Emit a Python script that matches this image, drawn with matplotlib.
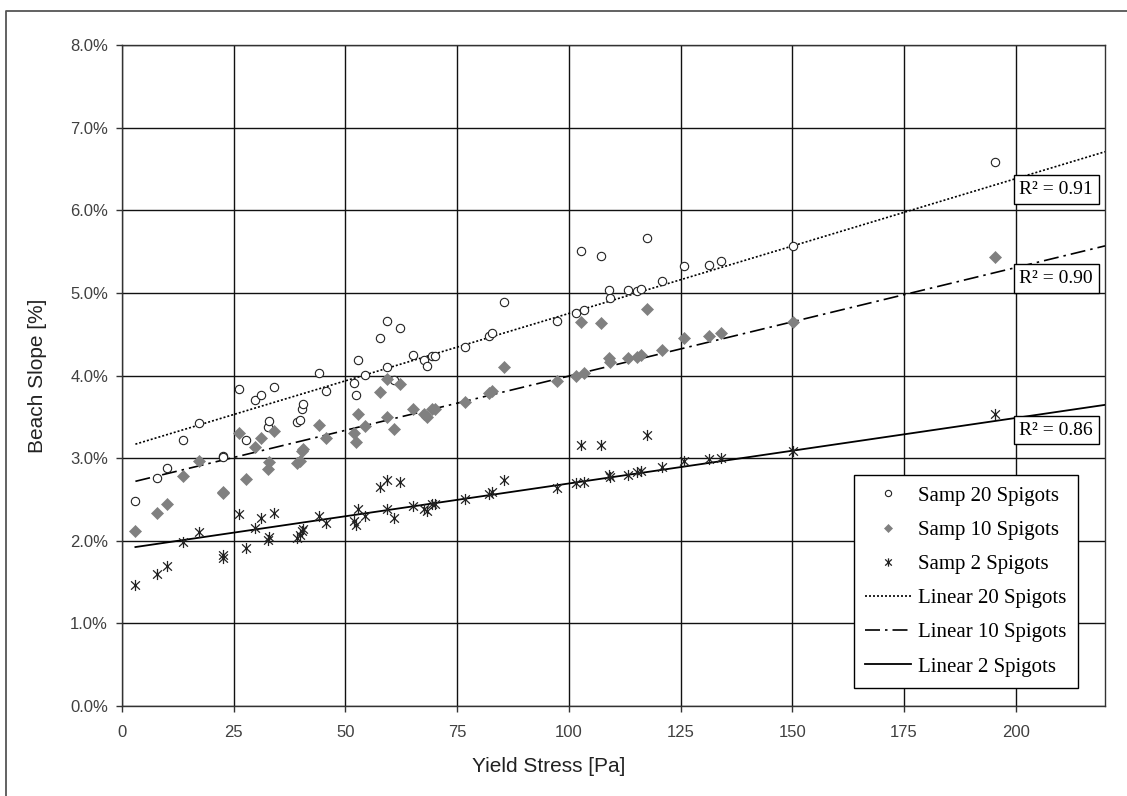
import numpy as np
import matplotlib
matplotlib.use("Agg")
import matplotlib.pyplot as plt
from matplotlib.lines import Line2D
from matplotlib.path import Path

# ---- data ----
yield_stress = [3.0, 7.9, 10.1, 13.7, 17.2, 22.6, 22.5, 26.2, 27.8, 29.7, 31.1, 32.7, 32.9, 34.1,
                39.1, 39.8, 40.2, 40.4, 44.2, 45.6, 52.0, 52.4, 52.8, 54.4, 57.7, 59.4, 59.4,
                60.9, 62.2, 65.2, 67.7, 68.3, 69.3, 70.0, 76.8, 82.1, 82.9, 85.6, 97.4, 101.5,
                102.7, 103.5, 107.2, 108.9, 109.3, 113.3, 115.2, 116.1, 117.4, 120.8, 125.8,
                131.4, 134.0, 150.2, 195.3]
slope_20 = [2.48, 2.76, 2.88, 3.22, 3.42, 3.03, 3.01, 3.84, 3.22, 3.70, 3.76, 3.38, 3.45, 3.86,
            3.44, 3.46, 3.60, 3.65, 4.03, 3.81, 3.91, 3.76, 4.19, 4.01, 4.45, 4.66, 4.10,
            3.94, 4.57, 4.25, 4.19, 4.12, 4.23, 4.23, 4.35, 4.48, 4.51, 4.89, 4.66, 4.76,
            5.51, 4.79, 5.45, 5.03, 4.94, 5.03, 5.02, 5.05, 5.67, 5.14, 5.32,
            5.34, 5.38, 5.57, 6.59]
slope_10 = [2.12, 2.34, 2.45, 2.78, 2.96, 2.59, 2.58, 3.30, 2.75, 3.14, 3.24, 2.87, 2.95, 3.33,
            2.94, 2.96, 3.09, 3.11, 3.40, 3.24, 3.31, 3.20, 3.53, 3.39, 3.80, 3.96, 3.50,
            3.35, 3.90, 3.59, 3.53, 3.50, 3.59, 3.60, 3.68, 3.79, 3.81, 4.10, 3.93, 4.00,
            4.65, 4.03, 4.63, 4.21, 4.16, 4.21, 4.22, 4.25, 4.80, 4.31, 4.45,
            4.48, 4.51, 4.65, 5.44]
slope_2 = [1.47, 1.60, 1.69, 1.98, 2.10, 1.83, 1.79, 2.32, 1.91, 2.15, 2.28, 2.01, 2.04, 2.34,
           2.03, 2.07, 2.12, 2.14, 2.30, 2.22, 2.24, 2.19, 2.38, 2.30, 2.65, 2.73, 2.38,
           2.28, 2.71, 2.42, 2.38, 2.36, 2.44, 2.44, 2.50, 2.57, 2.59, 2.74, 2.64, 2.70,
           3.16, 2.71, 3.16, 2.80, 2.77, 2.79, 2.83, 2.85, 3.28, 2.89, 2.96,
           2.99, 3.00, 3.09, 3.53]
# linear trendline coefficients as drawn in the reference (intercept %, slope %/Pa)
trend_intercept = [3.12, 2.68, 1.90]
trend_slope = [0.01631, 0.01313, 0.00793]
sample_labels = ["Samp 20 Spigots", "Samp 10 Spigots", "Samp 2 Spigots"]
trend_labels = ["Linear 20 Spigots", "Linear 10 Spigots", "Linear 2 Spigots"]
r2_labels = ["R\u00b2 = 0.91", "R\u00b2 = 0.90", "R\u00b2 = 0.86"]
x_ticks = [0, 25, 50, 75, 100, 125, 150, 175, 200]
y_ticks = [0, 1, 2, 3, 4, 5, 6, 7, 8]

SERIF = ["Liberation Serif", "DejaVu Serif"]
SANS = ["Liberation Sans", "DejaVu Sans"]

W, H = 1127, 796
fig = plt.figure(figsize=(W / 100, H / 100), dpi=100)
fig.patch.set_facecolor("white")
# outer chart-area border (only left and top edges are inside the picture)
fig.add_artist(Line2D([6 / W, 6 / W, 1.0], [0.0, 1 - 11 / H, 1 - 11 / H],
                      transform=fig.transFigure, color="#555555", linewidth=1.3))

ax = fig.add_axes([122 / W, 1 - 706 / H, (1105 - 122) / W, (706 - 45) / H])
ax.set_xlim(0, 220)
ax.set_ylim(0, 8)
ax.set_xticks(x_ticks)
ax.set_yticks(y_ticks)
ax.set_xticklabels([str(v) for v in x_ticks], family=SANS, fontsize=12, color="#404040")
ax.set_yticklabels([f"{v:.1f}%" for v in y_ticks], family=SANS, fontsize=12, color="#404040")
ax.tick_params(direction="out", length=4, width=1.0, color="#333333", pad=6)
ax.tick_params(axis="x", pad=10)
ax.grid(True, color="#111111", linewidth=1.0)
ax.set_axisbelow(True)
for s in ax.spines.values():
    s.set_color("#333333")
    s.set_linewidth(1.0)

x = np.array(yield_stress)
series = [np.array(slope_20), np.array(slope_10), np.array(slope_2)]

# Excel-like star marker: X with a vertical bar
star = Path([(-0.8, -0.75), (0.8, 0.75), (-0.8, 0.75), (0.8, -0.75), (0, -1), (0, 1)],
            [Path.MOVETO, Path.LINETO, Path.MOVETO, Path.LINETO, Path.MOVETO, Path.LINETO])

ax.plot(x, series[0], linestyle="none", marker="o", markersize=6, markerfacecolor="white",
        markeredgecolor="#222222", markeredgewidth=0.8, label=sample_labels[0], zorder=4)
ax.plot(x, series[1], linestyle="none", marker="D", markersize=6, markerfacecolor="#808080",
        markeredgecolor="#808080", markeredgewidth=0.5, label=sample_labels[1], zorder=4)
ax.plot(x, series[2], linestyle="none", marker=star, markersize=8,
        markeredgecolor="#222222", markeredgewidth=0.9, label=sample_labels[2], zorder=4)

styles = [(0, (1.2, 1.2)), (0, (9, 3, 1.5, 3)), "-"]
widths = [1.2, 1.2, 1.3]
xs = np.array([x.min(), 220.0])
for b, k, ls, lw, lab in zip(trend_intercept, trend_slope, styles, widths, trend_labels):
    ax.plot(xs, b + k * xs, color="black", linestyle=ls, linewidth=lw, label=lab, zorder=3)

r2_pos = [(209.1, 6.25), (209.1, 5.17), (209.1, 3.34)]
for (px, py), t in zip(r2_pos, r2_labels):
    ax.text(px, py, t, ha="center", va="center", family=SERIF, fontsize=14, zorder=6,
            bbox=dict(boxstyle="square,pad=0.3", facecolor="white", edgecolor="black",
                      linewidth=1.0))

leg = ax.legend(loc="lower right", bbox_to_anchor=(0.9725, 0.0272), borderaxespad=0,
                prop={"family": SERIF, "size": 15}, frameon=True, fancybox=False,
                edgecolor="black", framealpha=1, handlelength=2.2, handletextpad=0.35,
                labelspacing=0.7, borderpad=0.55, markerscale=0.75)
leg.get_frame().set_linewidth(1.0)
leg.set_zorder(7)

fig.text(549 / W, 1 - 766 / H, "Yield Stress [Pa]", ha="center", va="center",
         family=SANS, fontsize=15, color="#222222")
fig.text(38 / W, 1 - 376 / H, "Beach Slope [%]", ha="center", va="center", rotation=90,
         family=SANS, fontsize=15, color="#222222")

fig.savefig("out.png", dpi=100)
